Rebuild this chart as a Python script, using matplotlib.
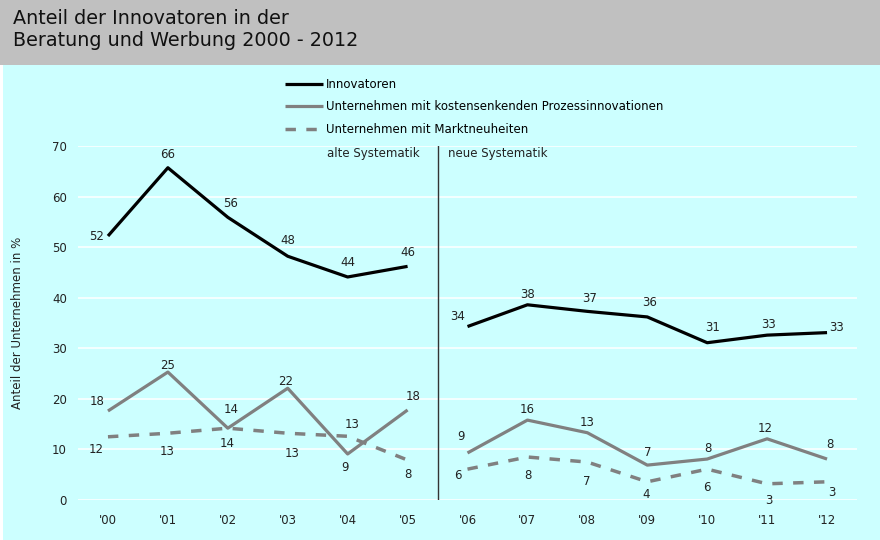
import numpy as np
import matplotlib.pyplot as plt
from matplotlib.patches import Rectangle

# data
years = ["'00", "'01", "'02", "'03", "'04", "'05", "'06",
         "'07", "'08", "'09", "'10", "'11", "'12"]
innovatoren = [52.2, 65.7, 55.9, 48.2, 44.1, 46.2, 34.3, 38.6, 37.3, 36.2, 31.1, 32.6, 33.1]
prozess = [17.6, 25.3, 14.2, 22.1, 9.1, 17.8, 9.3, 15.8, 13.3, 6.9, 8.1, 12.1, 8.1]
markt = [12.5, 13.2, 14.2, 13.2, 12.6, 7.9, 6.1, 8.5, 7.5, 3.6, 6.1, 3.2, 3.6]
innovatoren_lbl = [52, 66, 56, 48, 44, 46, 34, 38, 37, 36, 31, 33, 33]
prozess_lbl = [18, 25, 14, 22, 9, 18, 9, 16, 13, 7, 8, 12, 8]
markt_lbl = [12, 13, 14, 13, 13, 8, 6, 8, 7, 4, 6, 3, 3]
names = ['Innovatoren',
         'Unternehmen mit kostensenkenden Prozessinnovationen',
         'Unternehmen mit Marktneuheiten']
split = 6  # first year of "neue Systematik"

# label offsets in pixels (dx, dy up)
off_innov = [(-11, 0), (0, 13), (3, 14), (0, 16), (0, 14), (0, 14), (-10, 10),
             (0, 10), (2, 13), (2, 14), (5, 15), (1, 11), (10, 5)]
off_proz = [(-11, 9), (0, 7), (3, 19), (-2, 7), (-3, -14), (6, 13), (-7, 16),
            (0, 11), (0, 10), (0, 13), (1, 11), (-2, 10), (3, 15)]
off_markt = [(-12, -13), (-1, -18), (-1, -15), (4, -20), (4, 12), (0, -14), (-10, -6),
             (1, -18), (-1, -19), (-1, -13), (0, -18), (2, -17), (5, -11)]

cyan = '#ccffff'
grey = '#808080'
fs = 8.5

fig = plt.figure(figsize=(8.8, 5.4), dpi=100)
fig.patch.set_facecolor(cyan)
fig.patches.append(Rectangle((0, 1 - 65 / 540), 1, 65 / 540, transform=fig.transFigure,
                             facecolor='#c0c0c0', edgecolor='none', zorder=0))
fig.patches.append(Rectangle((0, 0), 3 / 880, 1 - 65 / 540, transform=fig.transFigure,
                             facecolor='white', edgecolor='none', zorder=0))
fig.text(13 / 880, 1 - 9 / 540, 'Anteil der Innovatoren in der\nBeratung und Werbung 2000 - 2012',
         ha='left', va='top', fontsize=13.8, color='#111111', linespacing=1.2)

ax = fig.add_axes([78 / 880, 40 / 540, 779 / 880, 354 / 540])
ax.set_facecolor(cyan)
x = np.arange(len(years))

styles = [dict(color='black', lw=2.3),
          dict(color=grey, lw=2.3),
          dict(color=grey, lw=2.5, dashes=(3, 3))]
series = [innovatoren, prozess, markt]
for s, st, nm in zip(series, styles, names):
    ax.plot(x[:split], s[:split], label=nm, solid_capstyle='butt', **st)
    ax.plot(x[split:], s[split:], solid_capstyle='butt', **st)

for s, lbls, offs in zip(series, [innovatoren_lbl, prozess_lbl, markt_lbl],
                         [off_innov, off_proz, off_markt]):
    for xi, yi, lb, (dx, dy) in zip(x, s, lbls, offs):
        ax.annotate(str(lb), (xi, yi), xytext=(dx, dy), textcoords='offset pixels',
                    ha='center', va='center', fontsize=fs, color='#222222')

ax.axvline(split - 0.5, color='#333333', lw=1)
ax.text(split - 0.8, 68.5, 'alte Systematik', ha='right', va='center', fontsize=fs, color='#222222')
ax.text(split - 0.32, 68.5, 'neue Systematik', ha='left', va='center', fontsize=fs, color='#222222')

ax.set_xlim(-0.5, 12.5)
ax.set_ylim(0, 70)
ax.set_yticks(np.arange(0, 71, 10))
ax.set_xticks(x)
ax.set_xticklabels(years)
ax.yaxis.grid(True, color='white', lw=1.1)
ax.set_axisbelow(True)
ax.tick_params(length=0, labelsize=fs, colors='#222222')
ax.tick_params(axis='y', pad=8)
ax.tick_params(axis='x', pad=10)
for sp in ax.spines.values():
    sp.set_visible(False)
ax.set_ylabel('Anteil der Unternehmen in %', fontsize=fs, color='#222222', labelpad=20)

fig.legend(loc='upper left', bbox_to_anchor=(285 / 880, 1 - 78 / 540), frameon=False,
           fontsize=fs, handlelength=3.2, handletextpad=0.25, labelspacing=0.8,
           borderpad=0, borderaxespad=0)

fig.savefig('out.png', dpi=100, facecolor=fig.get_facecolor())
